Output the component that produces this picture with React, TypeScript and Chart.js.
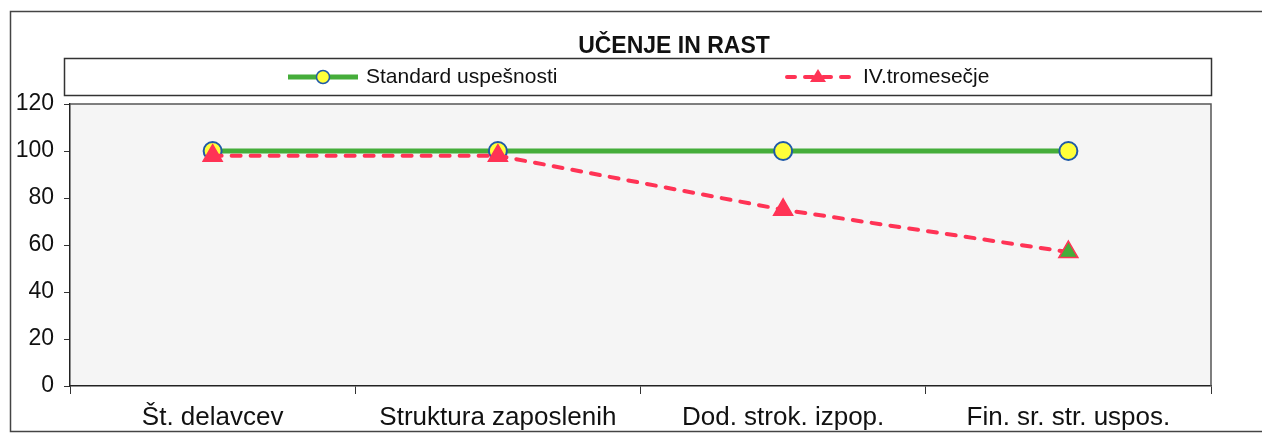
import React, { useEffect, useRef } from "react";
import { Chart, registerables } from "chart.js";

Chart.register(...registerables);

const categories = ["Št. delavcev", "Struktura zaposlenih", "Dod. strok. izpop.", "Fin. sr. str. uspos."];
const standardValues = [100, 100, 100, 100];
const quarterValues = [98, 98, 75, 57];
const seriesNames = ["Standard uspešnosti", "IV.tromesečje"];
const chartTitle = "UČENJE IN RAST";

const GREEN = "#45ad3a";
const RED = "#ff3355";
const YELLOW = "#ffff3a";
const BLUE = "#1f5aa8";
const FONT = "'Liberation Sans', Arial, sans-serif";

const decorPlugin = {
  id: "decor",
  beforeDraw(chart: any) {
    const { ctx, chartArea: a, width, height } = chart;
    ctx.save();
    ctx.fillStyle = "#ffffff";
    ctx.fillRect(0, 0, width, height);
    ctx.strokeStyle = "#444";
    ctx.lineWidth = 1.5;
    ctx.strokeRect(10.5, 11.5, width + 20, 420);
    ctx.fillStyle = "#f5f5f5";
    ctx.fillRect(a.left, a.top, a.right - a.left, a.bottom - a.top);
    ctx.restore();
  },
  beforeDatasetsDraw(chart: any) {
    const { ctx, chartArea: a } = chart;
    ctx.save();
    ctx.strokeStyle = "#555";
    ctx.lineWidth = 1.5;
    ctx.beginPath();
    ctx.moveTo(a.left, a.top);
    ctx.lineTo(a.right, a.top);
    ctx.lineTo(a.right, a.bottom);
    ctx.stroke();
    ctx.restore();
  },
  afterDraw(chart: any) {
    const { ctx } = chart;
    ctx.save();
    // title
    ctx.fillStyle = "#111";
    ctx.font = `bold 23px ${FONT}`;
    ctx.textAlign = "center";
    ctx.textBaseline = "middle";
    ctx.fillText(chartTitle, 674, 47);
    // legend box
    ctx.strokeStyle = "#333";
    ctx.lineWidth = 1.5;
    ctx.fillStyle = "#ffffff";
    ctx.fillRect(64, 58, 1147, 37);
    ctx.strokeRect(64.5, 58.5, 1147, 37);
    const ly = 77;
    // item 1
    ctx.strokeStyle = GREEN;
    ctx.lineWidth = 5;
    ctx.beginPath();
    ctx.moveTo(288, ly);
    ctx.lineTo(358, ly);
    ctx.stroke();
    ctx.beginPath();
    ctx.arc(323, ly, 6.5, 0, Math.PI * 2);
    ctx.fillStyle = YELLOW;
    ctx.fill();
    ctx.strokeStyle = BLUE;
    ctx.lineWidth = 1.5;
    ctx.stroke();
    ctx.fillStyle = "#111";
    ctx.font = `21px ${FONT}`;
    ctx.textAlign = "left";
    ctx.fillText(seriesNames[0], 366, ly);
    // item 2
    ctx.strokeStyle = RED;
    ctx.lineWidth = 4;
    ctx.lineCap = "round";
    ctx.setLineDash([8, 10]);
    ctx.beginPath();
    ctx.moveTo(787, ly);
    ctx.lineTo(856, ly);
    ctx.stroke();
    ctx.setLineDash([]);
    ctx.fillStyle = RED;
    ctx.beginPath();
    ctx.moveTo(818, ly - 8);
    ctx.lineTo(826, ly + 5);
    ctx.lineTo(810, ly + 5);
    ctx.closePath();
    ctx.fill();
    ctx.fillStyle = "#111";
    ctx.fillText(seriesNames[1], 863, ly);
    ctx.restore();
  },
};

export default function App() {
  const ref = useRef<HTMLCanvasElement | null>(null);
  useEffect(() => {
    if (!ref.current) return;
    const chart = new Chart(ref.current, {
      type: "line",
      data: {
        labels: categories,
        datasets: [
          {
            label: seriesNames[1],
            data: quarterValues,
            order: 0,
            borderColor: RED,
            borderWidth: 4,
            borderDash: [9, 10],
            borderCapStyle: "round",
            pointStyle: "triangle",
            pointRadius: 11,
            pointBackgroundColor: quarterValues.map((_, i) => (i === quarterValues.length - 1 ? GREEN : RED)),
            pointBorderColor: RED,
            pointBorderWidth: 1.5,
            tension: 0,
          },
          {
            label: seriesNames[0],
            data: standardValues,
            order: 1,
            borderColor: GREEN,
            borderWidth: 5,
            pointStyle: "circle",
            pointRadius: 9,
            pointBackgroundColor: YELLOW,
            pointBorderColor: BLUE,
            pointBorderWidth: 2,
            tension: 0,
          },
        ],
      },
      options: {
        animation: false,
        responsive: false,
        devicePixelRatio: 1,
        layout: { padding: { top: 104, left: 10, right: 51, bottom: 3 } },
        plugins: {
          legend: { display: false },
          title: { display: false },
          tooltip: { enabled: false },
        },
        scales: {
          x: {
            offset: true,
            grid: { offset: true, drawOnChartArea: false, tickLength: 8, color: "#333" },
            border: { color: "#222", width: 1.5 },
            ticks: { color: "#111", font: { family: FONT, size: 26 }, padding: 8, maxRotation: 0 },
            afterFit: (s: any) => { s.height = 45; },
          },
          y: {
            min: 0,
            max: 120,
            ticks: { stepSize: 20, color: "#111", font: { family: FONT, size: 23 }, padding: 10 },
            grid: { drawOnChartArea: false, tickLength: 6, color: "#333" },
            border: { color: "#222", width: 1.5 },
            afterFit: (s: any) => { s.width = 60; },
          },
        },
      },
      plugins: [decorPlugin],
    });
    return () => chart.destroy();
  }, []);
  return (
    <div style={{ position: "absolute", left: 0, top: 0, width: 1262, height: 434 }}>
      <canvas ref={ref} width={1262} height={434} style={{ display: "block" }} />
    </div>
  );
}
